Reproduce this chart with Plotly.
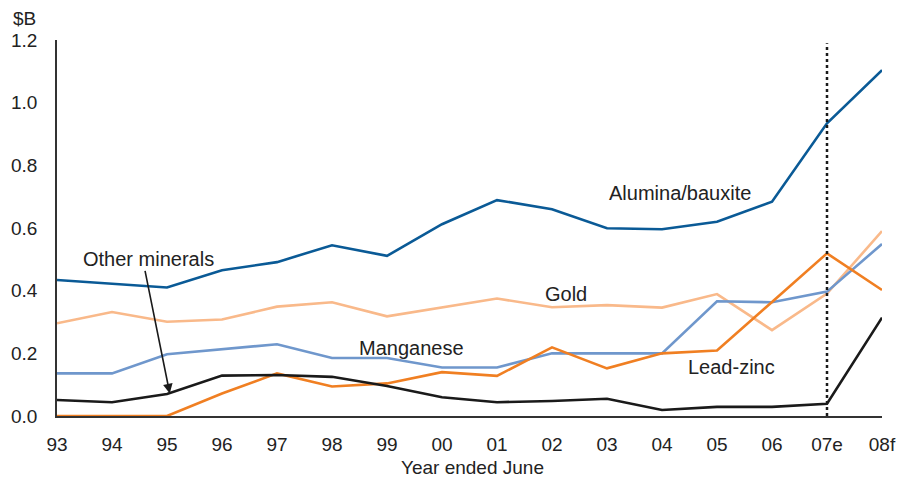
import plotly.graph_objects as go

years = ["93", "94", "95", "96", "97", "98", "99", "00", "01", "02", "03", "04", "05", "06", "07e", "08f"]
alumina = [0.434, 0.423, 0.410, 0.465, 0.491, 0.545, 0.511, 0.612, 0.689, 0.660, 0.599, 0.596, 0.620, 0.684, 0.934, 1.104]
gold = [0.296, 0.332, 0.301, 0.308, 0.349, 0.363, 0.318, 0.346, 0.375, 0.347, 0.354, 0.346, 0.389, 0.274, 0.391, 0.590]
manganese = [0.136, 0.136, 0.197, 0.213, 0.229, 0.185, 0.185, 0.155, 0.155, 0.200, 0.200, 0.200, 0.366, 0.363, 0.397, 0.549]
lead_zinc = [0.0, 0.0, 0.0, 0.072, 0.136, 0.094, 0.104, 0.140, 0.128, 0.219, 0.152, 0.200, 0.209, 0.364, 0.519, 0.402]
other = [0.051, 0.044, 0.070, 0.129, 0.131, 0.125, 0.096, 0.060, 0.044, 0.048, 0.055, 0.019, 0.029, 0.029, 0.039, 0.314]
y_ticks = [0.0, 0.2, 0.4, 0.6, 0.8, 1.0, 1.2]

FONT = "Liberation Sans, Arial, sans-serif"
FS = 19
AFS = 20
x_idx = list(range(len(years)))

fig = go.Figure()
series = [
    ("Gold", gold, "#f9b98a"),
    ("Manganese", manganese, "#6f97cc"),
    ("Lead-zinc", lead_zinc, "#f07f22"),
    ("Other minerals", other, "#1a1a1a"),
    ("Alumina/bauxite", alumina, "#0a5a96"),
]
for name, vals, col in series:
    fig.add_trace(go.Scatter(x=x_idx, y=vals, mode="lines", name=name,
                             line=dict(color=col, width=2.6), showlegend=False))

# vertical dashed line at 07e
fig.add_shape(type="line", xref="x", yref="y", x0=14, x1=14, y0=0, y1=1.19,
              line=dict(color="#1a1a1a", width=2.5, dash="dot"))

ann_font = dict(family=FONT, size=AFS, color="#222222")
fig.add_annotation(x=11.33, y=0.711, text="Alumina/bauxite", showarrow=False, font=ann_font)
fig.add_annotation(x=9.25, y=0.389, text="Gold", showarrow=False, font=ann_font)
fig.add_annotation(x=6.45, y=0.217, text="Manganese", showarrow=False, font=ann_font)
fig.add_annotation(x=12.27, y=0.156, text="Lead-zinc", showarrow=False, font=ann_font)
fig.add_annotation(x=1.67, y=0.501, text="Other minerals", showarrow=False, font=ann_font)
fig.add_annotation(x=2.05, y=0.072, ax=-25, ay=-124, text="", showarrow=True,
                   arrowhead=2, arrowsize=1.2, arrowwidth=1.6, arrowcolor="#1a1a1a")
fig.add_annotation(xref="paper", yref="paper", x=-0.0388, y=1.0585, xanchor="center", yanchor="middle",
                   text="$B", showarrow=False, font=dict(family=FONT, size=FS, color="#222222"))
fig.add_annotation(xref="paper", yref="paper", x=0.504, y=-0.138, xanchor="center", yanchor="middle",
                   text="Year ended June", showarrow=False, font=dict(family=FONT, size=FS, color="#222222"))

# page has an 8px body margin: shrink figure so the plot lands at the reference pixels
fig.update_layout(
    width=902, height=480,
    margin=dict(l=49, r=28, t=32, b=72),
    plot_bgcolor="white", paper_bgcolor="white",
    font=dict(family=FONT, size=FS, color="#222222"),
    xaxis=dict(range=[0, 15], tickmode="array", tickvals=x_idx, ticktext=years,
               showgrid=False, zeroline=False, showline=True, linecolor="#333333", linewidth=1.5,
               ticks="", ticklabelstandoff=10, automargin=False,
               tickfont=dict(family=FONT, size=FS, color="#222222")),
    yaxis=dict(range=[0, 1.2], tickmode="array", tickvals=y_ticks,
               ticktext=[f"{v:.1f}" for v in y_ticks],
               showgrid=False, zeroline=False, showline=True, linecolor="#333333", linewidth=1.5,
               ticks="", ticklabelstandoff=14, automargin=False,
               tickfont=dict(family=FONT, size=FS, color="#222222")),
)

fig.write_html("out.html")
